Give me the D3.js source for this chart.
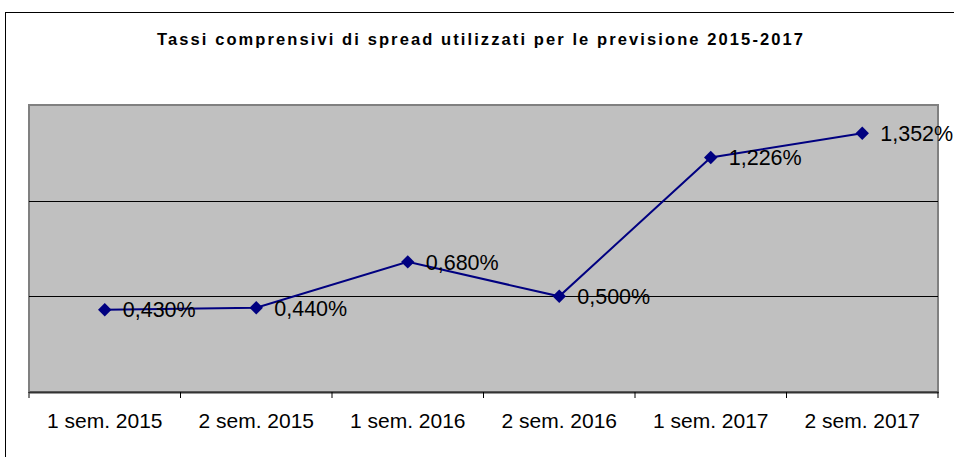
<!DOCTYPE html>
<html><head><meta charset="utf-8">
<script src="https://cdn.jsdelivr.net/npm/d3@7"></script>
<style>body{margin:0;background:#fff}svg{display:block}</style>
</head><body>
<svg id="c" width="954" height="457"></svg>
<script>
const categories = ["1 sem. 2015","2 sem. 2015","1 sem. 2016","2 sem. 2016","1 sem. 2017","2 sem. 2017"];
const values = [0.430, 0.440, 0.680, 0.500, 1.226, 1.352];
const labels = ["0,430%","0,440%","0,680%","0,500%","1,226%","1,352%"];
const gridValues = [0.5, 1.0];
const title = "Tassi comprensivi di spread utilizzati per le previsione 2015-2017";

const svg = d3.select("#c");
const font = "'Liberation Sans', Arial, sans-serif";
svg.append("rect").attr("x",5.5).attr("y",12.5).attr("width",1000).attr("height",500)
  .attr("fill","#fff").attr("stroke","#000").attr("stroke-width",1);

svg.append("text").attr("x",157).attr("y",44.5).attr("text-anchor","start")
  .attr("font-family",font).attr("font-weight","bold").attr("font-size",16.5)
  .attr("textLength",646).attr("lengthAdjust","spacing")
  .text(title);

const L=29, R=938, T=105, B=392;
const x = d3.scaleBand().domain(categories).range([L,R]);
const y = d3.scaleLinear().domain([0,1.5]).range([B,T]);

svg.append("rect").attr("x",L).attr("y",T).attr("width",R-L).attr("height",B-T)
  .attr("fill","#c0c0c0").attr("stroke","#808080").attr("stroke-width",2);

svg.selectAll("line.grid").data(gridValues).enter().append("line")
  .attr("x1",L).attr("x2",R).attr("y1",d=>Math.round(y(d))+0.5).attr("y2",d=>Math.round(y(d))+0.5)
  .attr("stroke","#000").attr("stroke-width",1);

const ax = svg.append("g").attr("transform",`translate(0,${B})`)
  .call(d3.axisBottom(x).tickSize(0).tickPadding(21));
ax.select(".domain").attr("stroke","#333").attr("stroke-width",2);
ax.selectAll("text").attr("font-family",font).attr("font-size",21).attr("fill","#000");
const bounds = categories.map(c=>x(c)).concat([R]);
svg.selectAll("line.tk").data(bounds).enter().append("line")
  .attr("x1",d=>d).attr("x2",d=>d).attr("y1",B).attr("y2",B+6)
  .attr("stroke","#000").attr("stroke-width",1);

const cx = (c)=>x(c)+x.bandwidth()/2;
const line = d3.line().x((d,i)=>cx(categories[i])).y(d=>y(d));
svg.append("path").datum(values).attr("d",line).attr("fill","none")
  .attr("stroke","#000080").attr("stroke-width",2);

svg.selectAll("path.m").data(values).enter().append("path")
  .attr("d",d3.symbol().type(d3.symbolDiamond2).size(115))
  .attr("transform",(d,i)=>`translate(${cx(categories[i])},${y(d)})`)
  .attr("fill","#000080");

svg.selectAll("text.lbl").data(values).enter().append("text")
  .attr("x",(d,i)=>cx(categories[i])+18).attr("y",d=>y(d)).attr("dy","0.36em")
  .attr("font-family",font).attr("font-size",21.5).attr("fill","#000")
  .text((d,i)=>labels[i]);
</script>
</body></html>
